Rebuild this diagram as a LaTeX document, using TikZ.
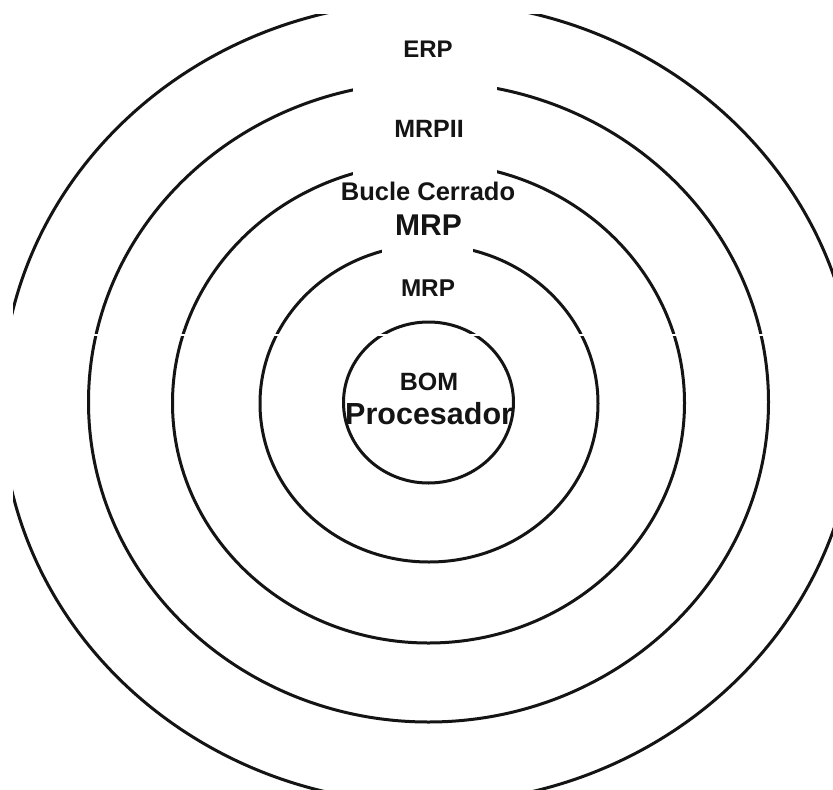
\documentclass[tikz,border=0pt]{standalone}
\usepackage{fontspec}
\setmainfont{Liberation Sans}
\definecolor{ink}{HTML}{141414}
\begin{document}
\begin{tikzpicture}[x=1pt,y=-1pt,
  ring/.style={line width=3pt, draw=ink},
  lbl/.style={anchor=base, inner sep=0pt, text=ink}]
\useasboundingbox (0,0) rectangle (833,790);
\fill[white] (0,0) rectangle (833,790);
% label inside the inner circle, clipped by it
\begin{scope}
  \clip (428.5,402.5) ellipse [x radius=86pt, y radius=81.5pt];
  \node[lbl, anchor=base west, font=\fontsize{30.5pt}{30.5pt}\selectfont\bfseries] (proc) at (345,424) {Procesador};
\end{scope}
% concentric rings, clipped to the picture area
\begin{scope}
  \clip (13,14) rectangle (833,790);
  \draw[ring] (428.5,402.5) ellipse [x radius=85pt, y radius=80.5pt];
  \draw[ring] (429,403.5) ellipse [x radius=169pt, y radius=158.5pt];
  \draw[ring] (428.5,403) ellipse [x radius=256pt, y radius=240pt];
  \draw[ring] (428.5,402) ellipse [x radius=340pt, y radius=320pt];
  \draw[ring] (428.5,402.5) ellipse [x radius=427pt, y radius=401pt];
\end{scope}
% white gap line
\draw[white, line width=2pt] (13,335) -- (776,335);
% white label backgrounds
\fill[white] (353,14) rectangle (497,181);
\fill[white] (340,180) rectangle (517,245);
\fill[white] (382,244) rectangle (473,318);
% labels
\node[lbl, font=\fontsize{24pt}{24pt}\selectfont\bfseries] (erp) at (428,57) {ERP};
\node[lbl, font=\fontsize{25pt}{25pt}\selectfont\bfseries] (mrpii) at (429,137) {MRPII};
\node[lbl, font=\fontsize{25.5pt}{25.5pt}\selectfont\bfseries] (bucle) at (428,200.5) {Bucle Cerrado};
\node[lbl, font=\fontsize{30pt}{30pt}\selectfont\bfseries] (mrpbig) at (428.5,235) {MRP};
\node[lbl, font=\fontsize{24.3pt}{24.3pt}\selectfont\bfseries] (mrp) at (428,296.5) {MRP};
\node[lbl, font=\fontsize{25pt}{25pt}\selectfont\bfseries] (bom) at (429,390) {BOM};
\end{tikzpicture}
\end{document}
